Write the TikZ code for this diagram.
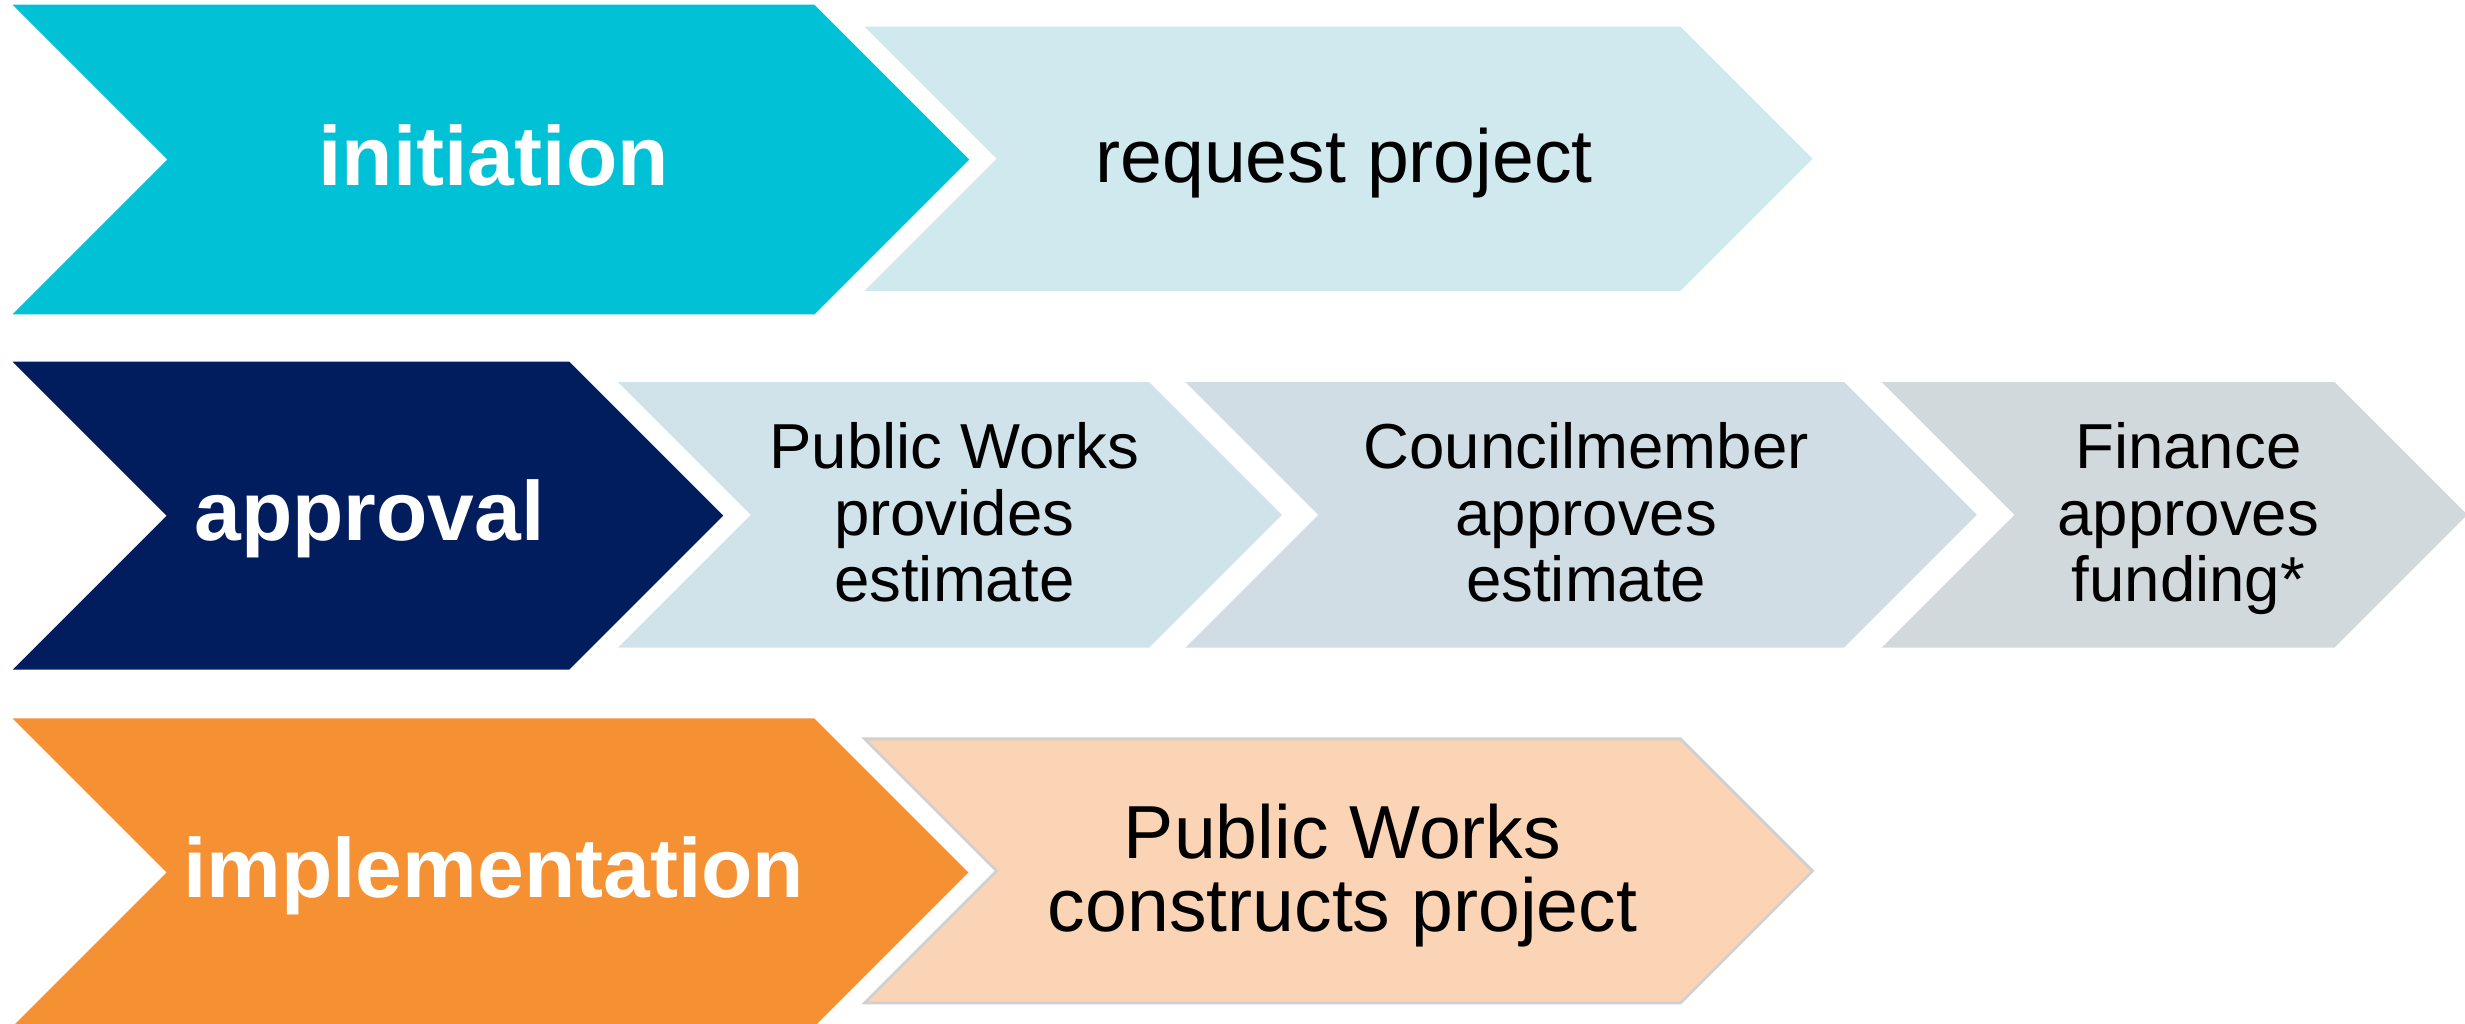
\documentclass[tikz,border=0pt]{standalone}
\usepackage{fontspec}
\setmainfont{Liberation Sans}

\definecolor{initcol}{RGB}{0,193,213}
\definecolor{approvcol}{RGB}{2,29,94}
\definecolor{implcol}{RGB}{245,145,50}
\definecolor{initlight}{RGB}{208,233,239}
\definecolor{approvlighta}{RGB}{208,227,234}
\definecolor{approvlightb}{RGB}{208,221,228}
\definecolor{approvlightc}{RGB}{209,217,221}
\definecolor{impllight}{RGB}{250,212,180}
\definecolor{implrim}{RGB}{208,208,208}

\tikzset{
  stagelabel/.style={text=white, inner sep=0pt, anchor=base,
    font=\fontsize{15.2}{18}\selectfont\bfseries},
  tasklabel/.style={text=black, inner sep=0pt, align=center,
    font=\fontsize{13.6}{13.1}\selectfont},
  smalltasklabel/.style={text=black, inner sep=0pt, align=center,
    font=\fontsize{11.5}{12}\selectfont},
}

% chevron: #1 left x, #2 top-right x, #3 top y, #4 bottom y, #5 fill options
\newcommand{\stagechev}[5]{%
  \pgfmathsetmacro{\chevd}{(#4-#3)/2}%
  \pgfmathsetmacro{\chevm}{(#4+#3)/2}%
  \fill[#5] (#1,#3) -- (#2,#3) -- ({#2+\chevd},\chevm) -- (#2,#4)
    -- (#1,#4) -- ({#1+\chevd},\chevm) -- cycle;}

\begin{document}
\begin{tikzpicture}[x=0.01cm,y=-0.01cm]
        \useasboundingbox (0,0) rectangle (1568,651);
        % row 1: initiation
        \stagechev{8}{518}{3}{200}{initcol}
        \stagechev{550}{1069}{17}{185}{initlight}
        \node[stagelabel] (initiation) at (314,118) {initiation};
        \node[tasklabel,anchor=base] (request) at (855,116) {request project};
        % row 2: approval
        \stagechev{8}{362}{230}{426}{approvcol}
        \stagechev{393}{731}{243}{412}{approvlighta}
        \stagechev{754}{1173}{243}{412}{approvlightb}
        \stagechev{1197}{1485}{243}{412}{approvlightc}
        \node[stagelabel] (approval) at (235,344) {approval};
        \node[smalltasklabel] (estimate) at (607,326) {Public Works\\provides\\estimate};
        \node[smalltasklabel] (council) at (1009,326) {Councilmember\\approves\\estimate};
        \node[smalltasklabel] (finance) at (1392,330) {Finance\\approves\\funding*};
        % row 3: implementation
        \stagechev{8}{518}{457}{653}{implcol}
        \stagechev{550}{1069}{470}{638}{impllight,draw=implrim,line width=0.5pt}
        \node[stagelabel] (implementation) at (314,571) {implementation};
        \node[tasklabel] (construct) at (854,557) {Public Works\\constructs project};
\end{tikzpicture}
\end{document}
